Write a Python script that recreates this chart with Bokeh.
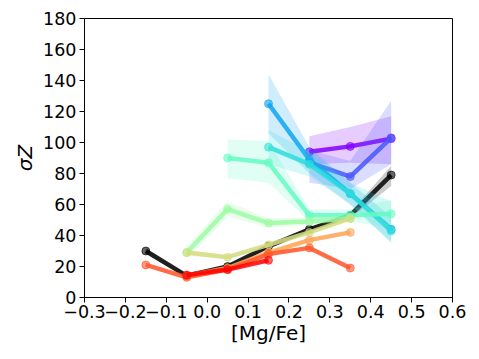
from bokeh.plotting import figure
from bokeh.models import FixedTicker, Range1d
from bokeh.embed import file_html
from bokeh.resources import INLINE

# series data: x ([Mg/Fe]), sigma Z, lower band, upper band
colors = ["#000000", "#8000ff", "#4757fb", "#0ea4f0", "#2bdddd", "#63fbc3",
          "#9cfba4", "#d4dd80", "#ffa457", "#ff572c", "#ff0000"]

x_black = [-0.15, -0.05, 0.05, 0.15, 0.25, 0.35, 0.45]
y_black = [30, 14, 20, 33, 44, 53, 79]
lo_black = [28, 13, 19, 32, 43, 51, 72]
hi_black = [32, 15, 21, 34, 45, 55, 85]

x_purple = [0.25, 0.35, 0.45]
y_purple = [94, 97.5, 102.5]
lo_purple = [86, 87, 86]
hi_purple = [104, 110, 117]

x_blue = [0.25, 0.35, 0.45]
y_blue = [87, 78, 103]
lo_blue = [74, 70, 86]
hi_blue = [95, 88, 127]

x_azure = [0.15, 0.25, 0.35, 0.45]
y_azure = [125, 89, 67, 44]
lo_azure = [106, 80, 60, 36]
hi_azure = [144, 97, 74, 52]

x_cyan = [0.15, 0.25, 0.35, 0.45]
y_cyan = [97, 86, 67, 43]
lo_cyan = [86, 78, 60, 35]
hi_cyan = [108, 94, 74, 62]

x_aqua = [0.05, 0.15, 0.25, 0.35, 0.45]
y_aqua = [90, 87, 53, 53, 54]
lo_aqua = [77, 74, 49, 49, 45]
hi_aqua = [102, 101, 57, 57, 63]

x_lgreen = [-0.05, 0.05, 0.15, 0.25, 0.35]
y_lgreen = [29, 57, 48, 49, 51]
lo_lgreen = [25, 52, 45, 47, 49]
hi_lgreen = [33, 62, 51, 52, 53]

x_khaki = [-0.05, 0.05, 0.15, 0.25, 0.35]
y_khaki = [29, 26, 34, 42, 51]
lo_khaki = [27, 25, 33, 41, 50]
hi_khaki = [31, 27, 35, 43, 52]

x_orange = [-0.05, 0.05, 0.15, 0.25, 0.35]
y_orange = [14, 19, 29, 37, 42]
lo_orange = [13, 18, 28, 36, 41]
hi_orange = [15, 20, 30, 38, 43]

x_redor = [-0.15, -0.05, 0.05, 0.15, 0.25, 0.35]
y_redor = [21, 13, 18, 28, 32, 19]
lo_redor = [20, 12, 17, 27, 31, 18]
hi_redor = [22, 14, 19, 29, 33, 20]

x_red = [-0.05, 0.05, 0.15]
y_red = [14.5, 18, 24]
lo_red = [14, 17.5, 23.5]
hi_red = [15, 18.5, 24.5]

series = [
    (x_black, y_black, lo_black, hi_black),
    (x_purple, y_purple, lo_purple, hi_purple),
    (x_blue, y_blue, lo_blue, hi_blue),
    (x_azure, y_azure, lo_azure, hi_azure),
    (x_cyan, y_cyan, lo_cyan, hi_cyan),
    (x_aqua, y_aqua, lo_aqua, hi_aqua),
    (x_lgreen, y_lgreen, lo_lgreen, hi_lgreen),
    (x_khaki, y_khaki, lo_khaki, hi_khaki),
    (x_orange, y_orange, lo_orange, hi_orange),
    (x_redor, y_redor, lo_redor, hi_redor),
    (x_red, y_red, lo_red, hi_red),
]

x_ticks = [-0.3, -0.2, -0.1, 0.0, 0.1, 0.2, 0.3, 0.4, 0.5, 0.6]
x_tick_labels = ["−0.3", "−0.2", "−0.1", "0.0", "0.1", "0.2", "0.3", "0.4", "0.5", "0.6"]
y_ticks = [0, 20, 40, 60, 80, 100, 120, 140, 160, 180]

p = figure(width=471, height=351, output_backend="svg", toolbar_location=None,
           x_range=Range1d(-0.3, 0.6), y_range=Range1d(0, 180),
           min_border_left=84, min_border_right=19, min_border_top=18, min_border_bottom=54)

for c, (xs, ys, lo, hi) in zip(colors, series):
    p.varea(x=xs, y1=lo, y2=hi, fill_color=c, fill_alpha=0.2)
    p.line(xs, ys, line_color=c, line_width=4.5, line_alpha=0.85)
    p.scatter(xs, ys, size=8, fill_color=c, line_color=c, fill_alpha=0.6, line_alpha=0.6)

p.xgrid.visible = False
p.ygrid.visible = False
p.outline_line_color = "black"
p.outline_line_width = 1

p.xaxis.ticker = FixedTicker(ticks=x_ticks)
p.xaxis.major_label_overrides = {t: l for t, l in zip(x_ticks, x_tick_labels)}
p.yaxis.ticker = FixedTicker(ticks=y_ticks)
for ax in (p.xaxis[0], p.yaxis[0]):
    ax.minor_tick_line_color = None
    ax.major_tick_in = 0
    ax.major_tick_out = 5
    ax.major_label_text_font = "DejaVu Sans"
    ax.major_label_text_font_size = "17.5px"
    ax.major_label_text_color = "black"
    ax.axis_label_text_font = "DejaVu Sans"
    ax.axis_label_text_font_size = "20px"
    ax.axis_label_text_font_style = "normal"
    ax.axis_label_text_color = "black"
    ax.axis_line_color = "black"
    ax.major_tick_line_color = "black"
p.xaxis.axis_label = "[Mg/Fe]"
p.yaxis.axis_label = "σZ"
p.yaxis.axis_label_text_font_style = "italic"
p.xaxis.major_label_standoff = 2
p.yaxis.major_label_standoff = 3
p.xaxis.axis_label_standoff = 0
p.yaxis.axis_label_standoff = 3

open("out.html", "w").write(file_html(p, INLINE))
